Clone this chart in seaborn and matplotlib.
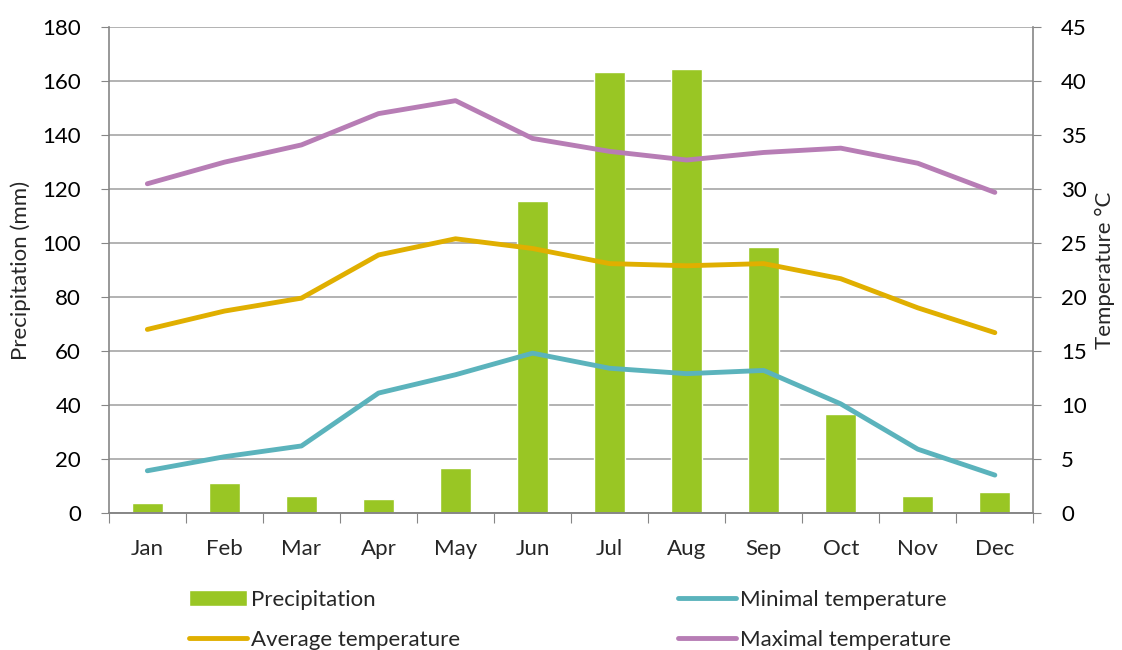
import numpy as np
import pandas as pd
import matplotlib
matplotlib.use('Agg')
import matplotlib.pyplot as plt
import seaborn as sns

# monthly climate values
months = ['Jan', 'Feb', 'Mar', 'Apr', 'May', 'Jun', 'Jul', 'Aug', 'Sep', 'Oct', 'Nov', 'Dec']
precip = [3.7, 10.9, 6.4, 5.2, 16.7, 115.7, 163.3, 164.6, 98.4, 36.8, 6.4, 7.8]
t_min = [3.9, 5.2, 6.2, 11.1, 12.8, 14.8, 13.4, 12.9, 13.2, 10.1, 5.9, 3.5]
t_avg = [17.0, 18.7, 19.9, 23.9, 25.4, 24.5, 23.1, 22.9, 23.1, 21.7, 19.0, 16.7]
t_max = [30.5, 32.5, 34.1, 37.0, 38.2, 34.7, 33.5, 32.7, 33.4, 33.8, 32.4, 29.7]

df = pd.DataFrame({'month': months, 'precip': precip, 'pos': np.arange(len(months)),
                   'tmin': t_min, 'tavg': t_avg, 'tmax': t_max})

sns.set_style('white')
plt.rcParams['font.family'] = ['Lato', 'DejaVu Sans']
fs = 16

fig, ax = plt.subplots(figsize=(11.22, 6.5), dpi=100)
fig.subplots_adjust(left=0.097, right=0.921, bottom=0.211, top=0.958)

grid_c = '#a6a6a6'
sns.barplot(data=df, x='month', y='precip', color='#99c624', width=0.4,
            saturation=1, ax=ax, label='Precipitation', zorder=2)
ax.set_ylim(0, 180)
ax.set_yticks(range(0, 181, 20))
ax.set_xlim(-0.5, 11.5)
ax.yaxis.grid(True, color=grid_c, lw=1.2, zorder=0)
ax.set_axisbelow(True)
ax.set_xlabel('')
ax.set_ylabel('Precipitation (mm)', fontsize=fs, labelpad=8)

ax2 = ax.twinx()
sns.lineplot(data=df, x='pos', y='tmin', color='#5bb3bc', lw=3.5, ax=ax2, label='Minimal temperature')
sns.lineplot(data=df, x='pos', y='tavg', color='#e0af00', lw=3.5, ax=ax2, label='Average temperature')
sns.lineplot(data=df, x='pos', y='tmax', color='#b77db5', lw=3.5, ax=ax2, label='Maximal temperature')
ax2.set_ylim(0, 45)
ax2.set_yticks(range(0, 46, 5))
ax2.set_xlim(-0.5, 11.5)
ax2.set_ylabel('Temperature °C', fontsize=fs, labelpad=6)
ax2.set_xlabel('')
ax2.get_legend().remove()

for a in (ax, ax2):
    for s in a.spines.values():
        s.set_color('#868686')
        s.set_linewidth(1.2)
    a.spines['top'].set_visible(False)
    a.tick_params(labelsize=fs, colors='#000000', length=6, color='#868686', direction='out')

ax.spines['right'].set_visible(False)
ax2.spines['left'].set_visible(False)
ax.tick_params(axis='y', left=True, right=False, pad=14)
ax2.tick_params(axis='y', right=True, left=False, pad=14)

# x ticks sit between categories, labels in the middle
ax.set_xticks(np.arange(-0.5, 12, 1))
ax.set_xticklabels([])
ax.set_xticks(np.arange(12), minor=True)
ax.set_xticklabels(months, minor=True)
ax.tick_params(axis='x', which='major', bottom=True, length=7)
ax.tick_params(axis='x', which='minor', length=0, labelsize=fs, pad=19)

h1, l1 = ax.get_legend_handles_labels()
h2, l2 = ax2.get_legend_handles_labels()
if ax.get_legend():
    ax.get_legend().remove()
handles = [h1[0], h2[1], h2[0], h2[2]]
labels = ['Precipitation', 'Average temperature', 'Minimal temperature', 'Maximal temperature']
fig.legend(handles, labels, ncol=2, loc='lower center', bbox_to_anchor=(0.508, -0.03),
           frameon=False, fontsize=fs, handlelength=2.6, handletextpad=0.2,
           columnspacing=9.8, labelspacing=0.9)

fig.savefig('out.png', dpi=100)
